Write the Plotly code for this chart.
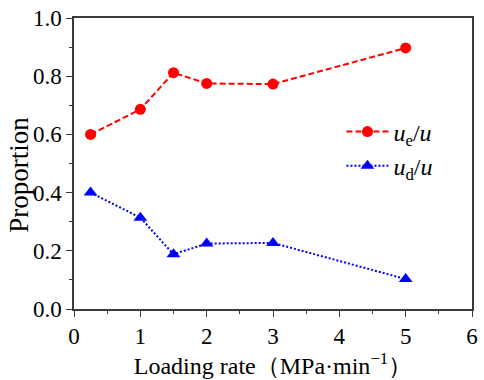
import plotly.graph_objects as go

x_vals = [0.25, 1, 1.5, 2, 3, 5]
ue_ratio = [0.600, 0.686, 0.812, 0.775, 0.773, 0.897]
ud_ratio = [0.400, 0.314, 0.188, 0.225, 0.227, 0.103]
series_names = ["<i>u</i><sub>e</sub>/<i>u</i>", "<i>u</i><sub>d</sub>/<i>u</i>"]
x_ticks = [0, 1, 2, 3, 4, 5, 6]
y_ticks = [0.0, 0.2, 0.4, 0.6, 0.8, 1.0]
x_title = "Loading rate（MPa·min<sup>−1</sup>）"
y_title = "Proportion"

FONT = "Liberation Serif, Times New Roman, serif"
FRAME = "#3a3a3a"

fig = go.Figure()
fig.add_trace(go.Scatter(
    x=x_vals, y=ue_ratio, name=series_names[0], mode="lines+markers",
    legendgroup="a",
    line=dict(color="#ff0000", dash="6px,3px", width=2),
    marker=dict(symbol="circle", size=11, color="#ff0000"),
))
fig.add_trace(go.Scatter(
    x=x_vals, y=ud_ratio, name=series_names[1], mode="lines+markers",
    legendgroup="b",
    line=dict(color="#0000ff", dash="2px,2px", width=2),
    marker=dict(symbol="triangle-up", size=12, color="#0000ff"),
))

axis_common = dict(
    showline=True, linecolor=FRAME, linewidth=1.5, mirror=True,
    ticks="outside", ticklen=6, tickwidth=1.2, tickcolor=FRAME,
    showgrid=False, zeroline=False, ticklabeloverflow="allow",
    tickfont=dict(family=FONT, size=23, color="black"),
)

fig.update_layout(
    width=484, height=380,
    margin=dict(l=74, r=6, t=10, b=71),
    paper_bgcolor="white", plot_bgcolor="white",
    font=dict(family=FONT, color="black"),
    showlegend=True,
    legend=dict(x=0.672, y=0.55, xanchor="left", yanchor="middle",
                bgcolor="rgba(0,0,0,0)", font=dict(family=FONT, size=24),
                itemwidth=42, tracegroupgap=0),
    xaxis=dict(range=[0, 6], tickvals=x_ticks, ticktext=[str(v) for v in x_ticks],
               minor=dict(dtick=0.5, ticks="outside", ticklen=3, tickcolor=FRAME),
               title=dict(text=x_title, font=dict(family=FONT, size=24), standoff=6),
               **axis_common),
    yaxis=dict(range=[0, 1.0], tickvals=y_ticks, ticktext=[f"{v:.1f}" for v in y_ticks],
               minor=dict(dtick=0.1, ticks="outside", ticklen=3, tickcolor=FRAME),
               **axis_common),
    annotations=[dict(text=y_title, textangle=-90, xref="paper", yref="paper",
                      x=-0.139, y=0.46, xanchor="center", yanchor="middle",
                      showarrow=False, font=dict(family=FONT, size=27))],
)

fig.write_html("out.html", config={"displayModeBar": False},
               post_script="document.body.style.margin='0';")
